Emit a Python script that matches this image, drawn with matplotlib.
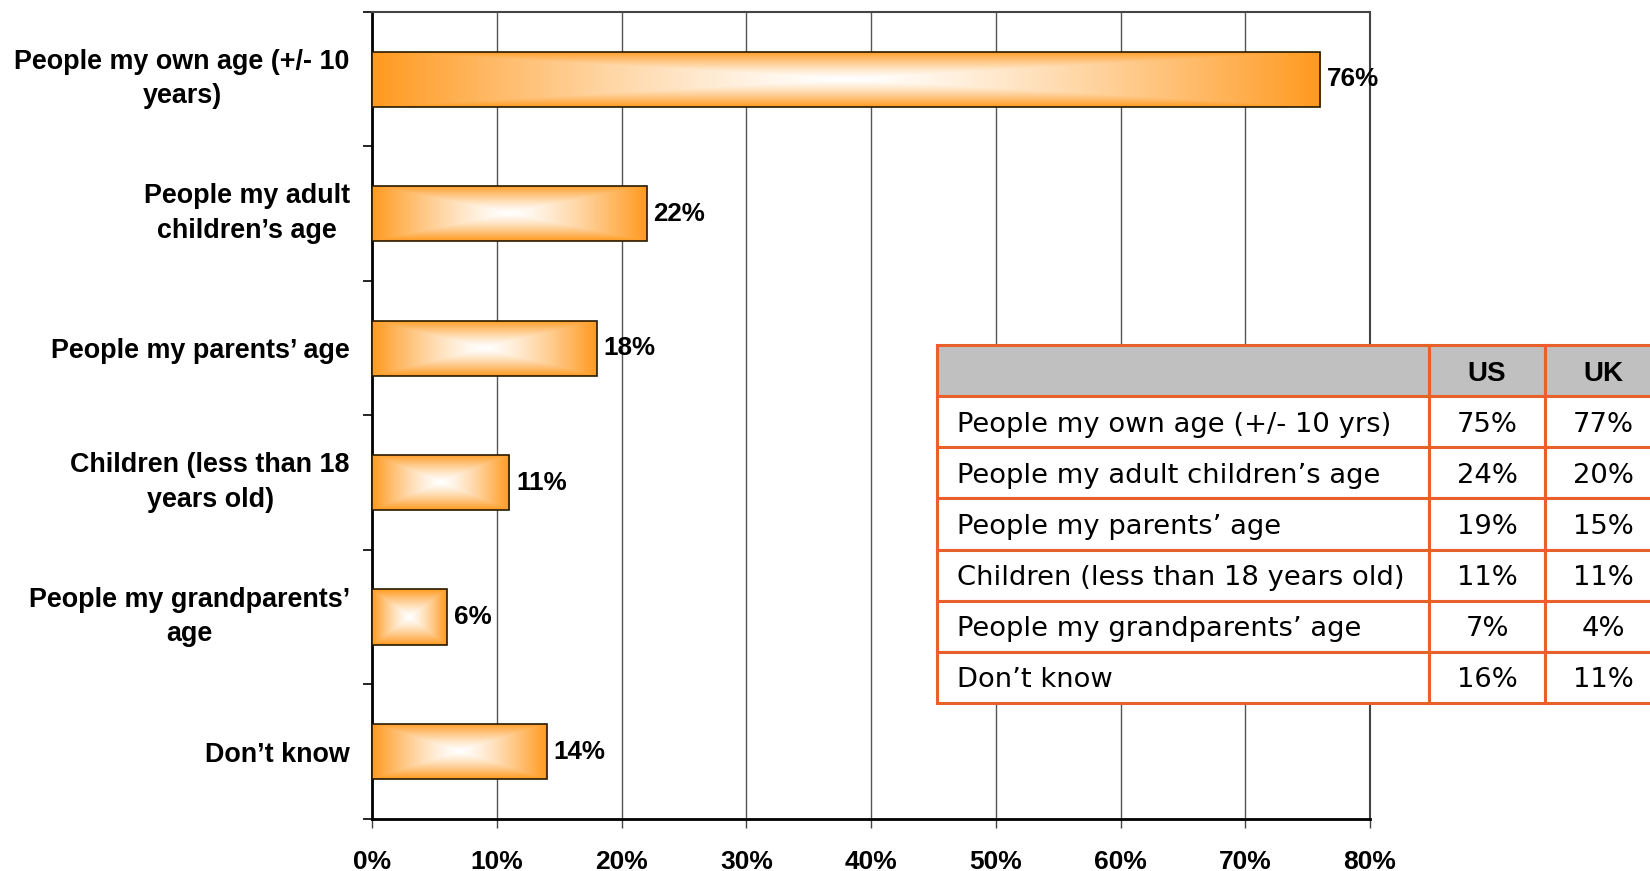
import numpy as np
import matplotlib
matplotlib.use("Agg")
import matplotlib.pyplot as plt
from matplotlib.colors import to_rgb

# Combined answers shown as bars
categories = [
    "People my own age (+/- 10\nyears)",
    "People my adult\nchildren’s age",
    "People my parents’ age",
    "Children (less than 18\nyears old)",
    "People my grandparents’\nage",
    "Don’t know",
]
values = [76, 22, 18, 11, 6, 14]

# Country breakdown shown in the table
table_rows = [
    "People my own age (+/- 10 yrs)",
    "People my adult children’s age",
    "People my parents’ age",
    "Children (less than 18 years old)",
    "People my grandparents’ age",
    "Don’t know",
]
table_cols = ["", "US", "UK"]
us_values = ["75%", "24%", "19%", "11%", "7%", "16%"]
uk_values = ["77%", "20%", "15%", "11%", "4%", "11%"]

ORANGE = "#FF9A20"
TABLE_EDGE = "#E8612C"
BAR_HEIGHT = 0.41


def box_gradient(n=200, power=1.3):
    """Rectangular 'from centre' gradient: white in the middle, orange at the edges."""
    u = np.linspace(-1, 1, n)
    uu, vv = np.meshgrid(u, u)
    t = np.maximum(np.abs(uu), np.abs(vv)) ** power
    edge = np.array(to_rgb(ORANGE))
    centre = np.array([1.0, 1.0, 1.0])
    return centre + (edge - centre) * t[..., None]


plt.rcParams["font.family"] = ["Liberation Sans", "DejaVu Sans"]

fig = plt.figure(figsize=(16.5, 8.71), dpi=100)
ax = fig.add_axes([0.2255, 0.0600, 0.6048, 0.9262])

y = np.arange(len(categories))
bars = ax.barh(y, values, height=BAR_HEIGHT, facecolor="none",
               edgecolor="#2a1a00", linewidth=1.2, zorder=4)

grad = box_gradient()
for bar, yi, v in zip(bars, y, values):
    im = ax.imshow(grad, extent=(0, v, yi + BAR_HEIGHT / 2, yi - BAR_HEIGHT / 2),
                   aspect="auto", interpolation="bilinear", zorder=3)
    im.set_clip_path(bar)
    ax.annotate(f"{v}%", xy=(v, yi), xytext=(5, 0), textcoords="offset points",
                va="center", ha="left", fontsize=18.7, fontweight="bold", zorder=6)

ax.set_xlim(0, 80)
ax.set_ylim(len(categories) - 0.5, -0.5)

# category labels in the middle of each band, ticks on the band edges
ax.set_yticks(y)
ax.set_yticklabels(categories, fontsize=19.4, fontweight="bold", multialignment="center")
for lbl in ax.get_yticklabels():
    lbl.set_linespacing(1.42)
    if "\n" in lbl.get_text():
        lbl.set_va("center")
ax.set_yticks(np.arange(len(categories) + 1) - 0.5, minor=True)
ax.tick_params(axis="y", which="major", length=0, pad=16)
ax.tick_params(axis="y", which="minor", length=6.5, width=1.2, direction="out", color="black")

ax.set_xticks(np.arange(0, 81, 10))
ax.set_xticklabels([f"{t}%" for t in range(0, 81, 10)], fontsize=19, fontweight="bold")
ax.tick_params(axis="x", length=6.5, width=1, color="#444444", direction="out", pad=16)

ax.grid(axis="x", color="#555555", linewidth=1)
ax.set_axisbelow(True)

ax.spines["left"].set_linewidth(2)
ax.spines["left"].set_color("black")
ax.spines["bottom"].set_linewidth(2)
ax.spines["bottom"].set_color("black")
ax.spines["top"].set_color("#444444")
ax.spines["top"].set_linewidth(1.5)
ax.spines["right"].set_color("#444444")
ax.spines["right"].set_linewidth(1.5)

# table of per-country results laid over the plot
cell_text = [[r, a, b] for r, a, b in zip(table_rows, us_values, uk_values)]
tbl = ax.table(cellText=cell_text, colLabels=table_cols,
               colWidths=[0.6796, 0.1602, 0.1602],
               bbox=[0.5661, 0.1434, 0.7255, 0.4438])
tbl.auto_set_font_size(False)
tbl.set_zorder(10)
tbl.set_clip_on(False)
for (r, c), cell in tbl.get_celld().items():
    cell.set_clip_on(False)
    cell.set_edgecolor(TABLE_EDGE)
    cell.set_linewidth(2.2)
    txt = cell.get_text()
    if r == 0:
        cell.set_facecolor("#C0C0C0")
        txt.set_fontsize(20)
        txt.set_fontweight("bold")
        txt.set_ha("center")
        txt.set_va("center_baseline")
        cell._loc = "center"
    else:
        cell.set_facecolor("white")
        txt.set_fontfamily("DejaVu Sans")
        txt.set_fontsize(19.7)
        txt.set_va("center_baseline")
        if c == 0:
            cell._loc = "left"
            cell.PAD = 0.04
            txt.set_ha("left")
        else:
            cell._loc = "center"
            txt.set_ha("center")

fig.savefig("out.png", dpi=100)
